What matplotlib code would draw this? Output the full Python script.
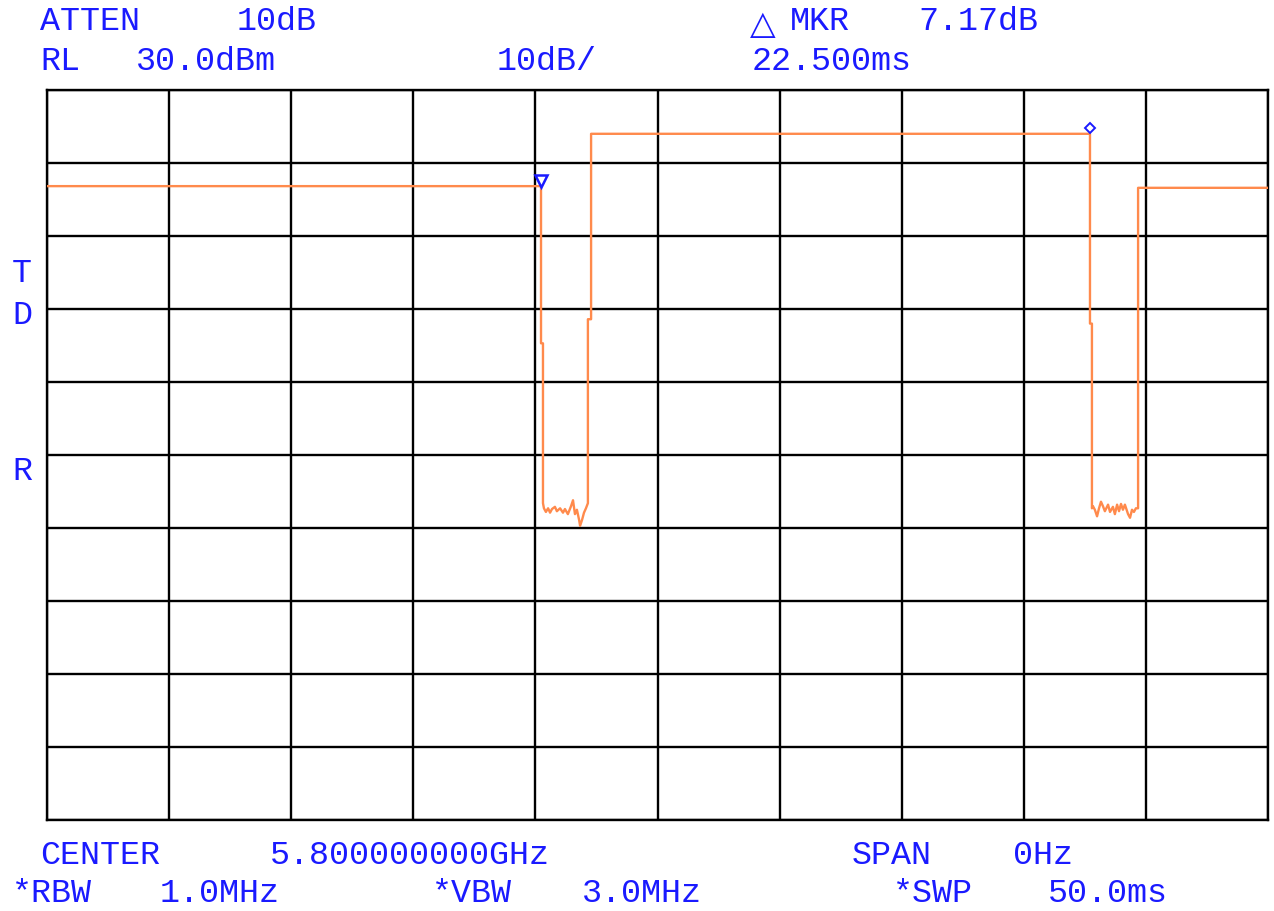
import numpy as np
import matplotlib
matplotlib.use("Agg")
from matplotlib import pyplot as plt
from matplotlib import transforms

# analizador de espectro, span 0 Hz, barrido 50 ms
# trace: tiempo (ms) y nivel (dBm), leidos de la pantalla
t_ms = [0.0, 20.10, 20.23, 20.23, 20.31, 20.31,
        20.35, 20.43, 20.52, 20.60, 20.68, 20.80, 20.88, 21.01, 21.13, 21.21,
        21.33, 21.46, 21.54, 21.62, 21.70, 21.79, 21.83, 21.91, 21.99, 22.07,
        22.15, 22.15, 22.28, 22.28,
        42.71, 42.71, 42.79, 42.79,
        42.83, 42.91, 43.00, 43.08, 43.16, 43.24, 43.32, 43.45, 43.53, 43.65,
        43.73, 43.82, 43.90, 43.98, 44.06, 44.14, 44.27, 44.35, 44.43, 44.51,
        44.59, 44.68, 44.68, 50.0]
nivel_dbm = [16.83, 16.83, 16.83, -4.7, -4.7, -26.6,
             -27.3, -27.8, -27.3, -27.9, -27.4, -27.1, -27.7, -27.3, -27.9, -27.4,
             -28.1, -27.0, -26.2, -28.1, -27.5, -28.9, -29.7, -28.9, -27.9, -27.3,
             -26.6, -1.4, -1.4, 24.0,
             24.0, -2.0, -2.0, -27.3,
             -27.0, -27.5, -28.4, -27.3, -26.4, -27.0, -27.7, -26.8, -27.8, -27.1,
             -28.1, -26.8, -27.7, -26.7, -27.5, -26.8, -28.1, -28.6, -27.5, -27.8,
             -27.3, -27.3, 16.6, 16.6]

# marcadores
mkr_ref = (20.23, 16.83)
mkr_delta = (42.71, 24.0)

# textos de la pantalla (x, y en pixeles de la figura)
textos = [
    (40, 22, "ATTEN"), (237, 22, "10dB"), (790, 22, "MKR"), (918, 22, "7.17dB"),
    (40, 62, "RL"), (136, 62, "30.0dBm"), (497, 62, "10dB/"), (752, 62, "22.500ms"),
    (40, 855, "CENTER"), (270, 855, "5.800000000GHz"), (852, 855, "SPAN"), (1013, 855, "0Hz"),
    (12, 893, "*RBW"), (160, 893, "1.0MHz"), (432, 893, "*VBW"), (582, 893, "3.0MHz"),
    (893, 893, "*SWP"), (1048, 893, "50.0ms"),
    (12, 273, "T"), (12, 315, "D"), (12, 472, "R"),
]

W, H = 1274, 911
azul = "#1a1aff"
naranja = "#ff8a4c"

fig = plt.figure(figsize=(W / 100, H / 100), dpi=100)
ax = fig.add_axes([47 / W, 1 - 820 / H, (1268 - 47) / W, (820 - 90) / H])

ax.set_xlim(0, 50)
ax.set_ylim(-70, 30)
ax.set_xticks(np.arange(0, 51, 5))
ax.set_yticks(np.arange(-70, 31, 10))
ax.grid(True, color="black", lw=1.7)
ax.tick_params(length=0, labelbottom=False, labelleft=False)
for s in ax.spines.values():
    s.set_color("black")
    s.set_linewidth(1.7)

ax.plot(t_ms, nivel_dbm, color=naranja, lw=1.7, zorder=3)

# marcador de referencia (triangulo) y delta (rombo), un poco sobre la traza
arriba = transforms.offset_copy(ax.transData, fig=fig, x=0, y=4, units="points")
ax.plot(mkr_ref[0], mkr_ref[1], marker="v", ms=9, mfc="none", mec=azul, mew=1.8,
        transform=arriba, zorder=4, clip_on=False)
ax.plot(mkr_delta[0], mkr_delta[1], marker="D", ms=5, mfc="white", mec=azul, mew=1.4,
        transform=arriba, zorder=4, clip_on=False)

for x, y, s in textos:
    fig.text(x / W, 1 - y / H, s, color=azul, fontsize=24, family="Liberation Mono",
             ha="left", va="center")
# triangulo de delta marker
fig.text(750 / W, 1 - 25 / H, "\u25b3", color=azul, fontsize=24, family="DejaVu Sans",
         ha="left", va="center")

fig.savefig("out.png", dpi=100, facecolor="white")
